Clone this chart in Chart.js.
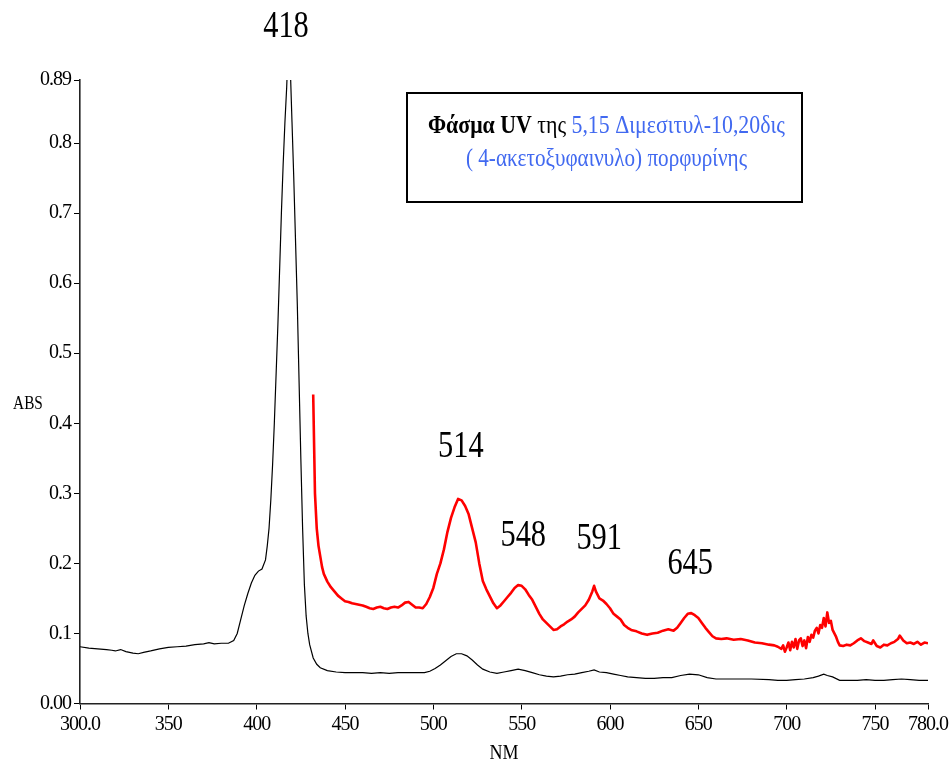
<!DOCTYPE html>
<html>
<head>
<meta charset="utf-8">
<script src="https://cdn.jsdelivr.net/npm/chart.js@4.4.1/dist/chart.umd.min.js"></script>
<style>
  html,body{margin:0;padding:0;background:#fff;}
  canvas{display:block;}
</style>
</head>
<body>
<canvas id="c" width="952" height="766"></canvas>
<script>
// ---- data ----
const blackNm = [300,305,310,315,318,320,323,326,330,333,336,340,345,350,355,360,365,370,373,376,380,384,387,389,391,393,395,397,399,401,403,405,406,407,408,409,410,411,412,413,414,415,416,417,418,419,420,421,422,423,424,425,426,427,428,429,430,432,434,436,440,445,450,455,460,465,470,475,480,485,490,495,498,501,504,507,510,513,516,519,522,525,528,532,536,540,544,548,552,556,560,564,568,572,576,580,584,588,591,594,598,602,606,610,615,620,625,630,635,640,645,650,655,660,670,680,690,695,700,705,710,715,718,721,723,726,730,735,740,745,750,755,760,765,770,775,780];
const blackAbs = [0.081,0.079,0.078,0.077,0.076,0.075,0.077,0.074,0.072,0.071,0.073,0.075,0.078,0.080,0.081,0.082,0.084,0.085,0.087,0.085,0.086,0.086,0.090,0.100,0.120,0.140,0.157,0.172,0.183,0.189,0.192,0.205,0.225,0.250,0.290,0.340,0.400,0.470,0.540,0.620,0.700,0.770,0.830,0.880,0.950,0.910,0.830,0.750,0.660,0.570,0.460,0.350,0.250,0.170,0.125,0.100,0.084,0.065,0.056,0.051,0.047,0.045,0.044,0.044,0.044,0.043,0.044,0.043,0.044,0.044,0.044,0.044,0.046,0.050,0.055,0.061,0.067,0.071,0.071,0.068,0.062,0.055,0.049,0.045,0.043,0.045,0.047,0.049,0.047,0.044,0.041,0.039,0.038,0.039,0.041,0.042,0.044,0.046,0.048,0.045,0.044,0.042,0.040,0.038,0.037,0.036,0.036,0.037,0.037,0.040,0.042,0.041,0.037,0.035,0.035,0.035,0.034,0.033,0.033,0.034,0.035,0.037,0.039,0.042,0.040,0.038,0.033,0.033,0.033,0.034,0.033,0.033,0.034,0.035,0.034,0.033,0.033];

const redNm = [432,433,434,435,436,437,438,440,442,444,446,448,450,452,454,456,458,460,462,464,466,468,470,472,474,476,478,480,482,484,486,488,490,492,494,496,498,500,502,504,506,508,510,512,514,516,518,520,522,524,526,528,530,532,534,536,538,540,542,544,546,548,550,552,554,556,558,560,562,564,566,568,570,572,574,576,578,580,582,584,586,588,590,591,592,594,596,598,600,602,604,606,608,610,612,615,618,621,624,627,630,633,636,638,640,642,644,646,648,650,652,654,656,658,660,663,666,670,674,678,682,686,690,693,695,697,698,699,700,701,702,703,704,705,706,707,708,709,710,711,712,713,714,715,716,717,718,719,720,721,722,723,724,725,726,727,728,729,730,732,734,736,738,740,742,744,746,748,749,751,753,755,757,759,761,763,764,766,768,770,772,774,776,778,780];
const redAbs = [0.441,0.300,0.250,0.225,0.210,0.195,0.185,0.174,0.166,0.160,0.154,0.150,0.146,0.145,0.143,0.142,0.141,0.140,0.138,0.136,0.135,0.137,0.138,0.136,0.135,0.137,0.138,0.137,0.140,0.144,0.145,0.141,0.137,0.137,0.136,0.142,0.152,0.165,0.185,0.200,0.220,0.245,0.265,0.280,0.292,0.290,0.282,0.270,0.250,0.230,0.200,0.175,0.163,0.153,0.143,0.136,0.140,0.146,0.152,0.158,0.165,0.169,0.168,0.163,0.155,0.148,0.138,0.128,0.120,0.115,0.110,0.105,0.106,0.110,0.113,0.117,0.120,0.124,0.130,0.135,0.140,0.148,0.160,0.168,0.160,0.150,0.147,0.142,0.136,0.128,0.124,0.120,0.112,0.108,0.105,0.103,0.100,0.098,0.100,0.101,0.104,0.106,0.104,0.108,0.115,0.122,0.128,0.129,0.126,0.122,0.115,0.108,0.102,0.096,0.093,0.092,0.093,0.091,0.092,0.090,0.087,0.086,0.084,0.083,0.081,0.078,0.083,0.074,0.080,0.087,0.076,0.088,0.080,0.092,0.078,0.090,0.093,0.082,0.090,0.079,0.095,0.088,0.098,0.094,0.104,0.108,0.100,0.112,0.108,0.122,0.110,0.130,0.115,0.118,0.105,0.100,0.095,0.088,0.083,0.082,0.084,0.083,0.086,0.090,0.093,0.089,0.087,0.085,0.090,0.082,0.080,0.084,0.083,0.086,0.088,0.092,0.097,0.090,0.086,0.087,0.085,0.088,0.084,0.087,0.086];

const xTickValues = [300,350,400,450,500,550,600,650,700,750,780];
const xTickLabels = ['300.0','350','400','450','500','550','600','650','700','750','780.0'];
const yTickValues = [0,0.1,0.2,0.3,0.4,0.5,0.6,0.7,0.8,0.89];
const yTickLabels = ['0.00','0.1','0.2','0.3','0.4','0.5','0.6','0.7','0.8','0.89'];

const peakNames = ['418','514','548','591','645'];
const xTitle = 'NM';
const yTitle = 'ABS';
const titleLine1 = [
  {t:'Φάσμα UV', bold:true, color:'#000000'},
  {t:' της ', bold:false, color:'#000000'},
  {t:'5,15 Διμεσιτυλ-10,20δις', bold:false, color:'#4169f0'}
];
const titleLine2 = '( 4-ακετοξυφαινυλο) πορφυρίνης';

// ---- build ----
const toPts = (xs, ys) => xs.map((x, i) => ({x: x, y: ys[i]}));
const SERIF = '"Liberation Serif", "Times New Roman", serif';

const spacingPlugin = {
  id: 'spacing',
  beforeInit(chart){ chart.ctx.letterSpacing = '-1px'; },
  beforeUpdate(chart){ chart.ctx.letterSpacing = '-1px'; },
  beforeDraw(chart){ chart.ctx.letterSpacing = '-1px'; }
};

const textPlugin = {
  id: 'texts',
  afterDraw(chart){
    const ctx = chart.ctx;
    const xs = chart.scales.x, ys = chart.scales.y;
    const area = chart.chartArea;
    ctx.save();
    ctx.letterSpacing = '0px';
    ctx.fillStyle = '#000';
    ctx.textBaseline = 'alphabetic';

    // axis titles
    ctx.font = '20px ' + SERIF;
    ctx.textAlign = 'center';
    ctx.save(); ctx.translate((area.left + area.right) / 2, 759); ctx.scale(0.9, 1);
    ctx.fillText(xTitle, 0, 0); ctx.restore();
    ctx.font = '18px ' + SERIF;
    ctx.save(); ctx.translate(28, ys.getPixelForValue(0.42)); ctx.scale(0.85, 1);
    ctx.fillText(yTitle, 0, 0); ctx.restore();

    // peak labels (anchor in data units)
    const anchors = [[416.6,0.952],[515.6,0.352],[550.9,0.225],[593.9,0.221],[645.4,0.185]];
    ctx.font = '38px ' + SERIF;
    peakNames.forEach((name, i) => {
      const px = xs.getPixelForValue(anchors[i][0]);
      const py = ys.getPixelForValue(anchors[i][1]);
      ctx.save(); ctx.translate(px, py); ctx.scale(0.8, 1);
      ctx.textAlign = 'center';
      ctx.fillText(name, 0, 0);
      ctx.restore();
    });

    // title box
    ctx.lineWidth = 2;
    ctx.strokeStyle = '#000';
    ctx.strokeRect(407, 93, 395, 109);

    const fs = 26;
    // line 1
    let widths = titleLine1.map(seg => {
      ctx.font = (seg.bold ? 'bold ' : '') + fs + 'px ' + SERIF;
      return ctx.measureText(seg.t).width;
    });
    let total = widths.reduce((a, b) => a + b, 0);
    let sx = 357 / total;
    ctx.save(); ctx.translate(428, 133); ctx.scale(sx, 1);
    ctx.textAlign = 'left';
    let cx = 0;
    titleLine1.forEach((seg, i) => {
      ctx.font = (seg.bold ? 'bold ' : '') + fs + 'px ' + SERIF;
      ctx.fillStyle = seg.color;
      ctx.fillText(seg.t, cx, 0);
      cx += widths[i];
    });
    ctx.restore();
    // line 2
    ctx.font = fs + 'px ' + SERIF;
    let w2 = ctx.measureText(titleLine2).width;
    ctx.save(); ctx.translate(466, 166); ctx.scale(281 / w2, 1);
    ctx.fillStyle = '#4169f0';
    ctx.textAlign = 'left';
    ctx.fillText(titleLine2, 0, 0);
    ctx.restore();

    ctx.restore();
  }
};

new Chart(document.getElementById('c'), {
  type: 'line',
  data: {
    datasets: [
      {label: 'red', data: toPts(redNm, redAbs), borderColor: '#ff0000', borderWidth: 2.6, pointRadius: 0, tension: 0, fill: false, borderJoinStyle: 'round', borderCapStyle: 'butt'},
      {label: 'black', data: toPts(blackNm, blackAbs), borderColor: '#000000', borderWidth: 1.2, pointRadius: 0, tension: 0, fill: false}
    ]
  },
  options: {
    responsive: false,
    animation: false,
    devicePixelRatio: 1,
    layout: {padding: {top: 80, right: 24, left: 0, bottom: 0}},
    plugins: {legend: {display: false}, tooltip: {enabled: false}, title: {display: false}},
    scales: {
      x: {
        type: 'linear', min: 300, max: 780,
        afterBuildTicks: s => { s.ticks = xTickValues.map(v => ({value: v})); },
        afterFit: s => { s.height = 62.5; },
        ticks: {
          autoSkip: false, maxRotation: 0, padding: 3, color: '#000',
          font: {family: SERIF, size: 20},
          callback: (v, i) => xTickLabels[i]
        },
        grid: {drawOnChartArea: false, drawTicks: true, tickLength: 6, color: '#000', lineWidth: 1},
        border: {display: true, color: '#222', width: 1.6}
      },
      y: {
        type: 'linear', min: 0, max: 0.89,
        afterBuildTicks: s => { s.ticks = yTickValues.map(v => ({value: v})); },
        afterFit: s => { s.width = 80; },
        ticks: {
          autoSkip: false, padding: 3, color: '#000',
          font: {family: SERIF, size: 20},
          callback: (v, i) => yTickLabels[i]
        },
        grid: {drawOnChartArea: false, drawTicks: true, tickLength: 6, color: '#000', lineWidth: 1},
        border: {display: true, color: '#222', width: 1.6}
      }
    }
  },
  plugins: [spacingPlugin, textPlugin]
});
</script>
</body>
</html>
